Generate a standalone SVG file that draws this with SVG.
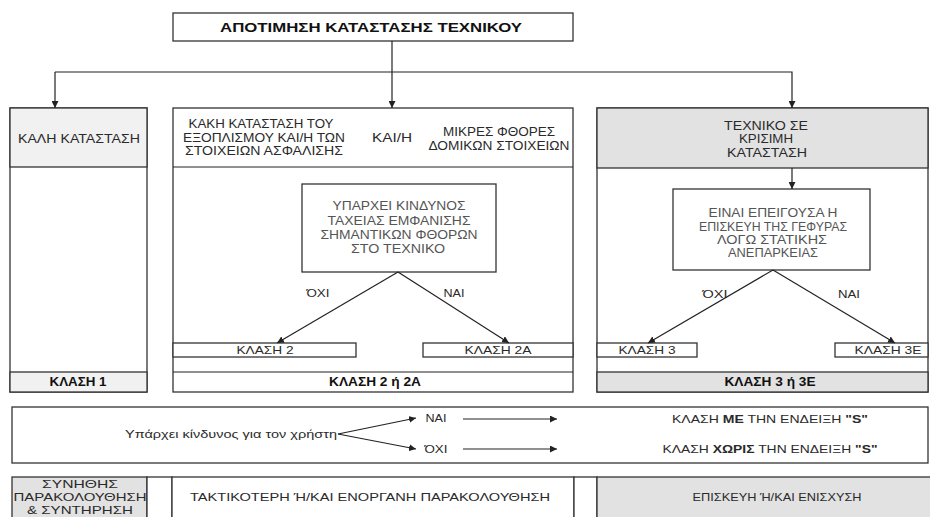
<svg xmlns="http://www.w3.org/2000/svg" width="930" height="517" viewBox="0 0 930 517">
<style>
.bx{fill:#fff;stroke:#333;stroke-width:1.3}
.gy{fill:#e2e2e2;stroke:#333;stroke-width:1.3}
.lg{fill:#f1f1f1;stroke:#333;stroke-width:1.3}
.ln{fill:none;stroke:#222;stroke-width:1.2}
text{font-family:"Liberation Sans",Arial,sans-serif;font-size:12px;fill:#2a2a2a;text-anchor:middle;dominant-baseline:central}
.b{font-weight:bold;fill:#111}
.i{fill:#555}
.s{font-size:11px}
</style>
<defs>
<marker id="ah" viewBox="0 0 10 10" refX="10" refY="5" markerWidth="7" markerHeight="7" markerUnits="userSpaceOnUse" orient="auto"><path d="M0,0L10,5L0,10z" fill="#222"/></marker>
</defs>
<rect width="930" height="517" fill="#fff"/>

<g id="title"><rect class="bx" x="173" y="13" width="400" height="28"/><text class="b" x="371" y="28" font-size="13" textLength="302" lengthAdjust="spacingAndGlyphs">ΑΠΟΤΙΜΗΣΗ ΚΑΤΑΣΤΑΣΗΣ ΤΕΧΝΙΚΟΥ</text></g>

<g id="col1">
<rect class="bx" x="10" y="108" width="137" height="284"/>
<rect class="lg" x="10" y="108" width="137" height="59"/>
<rect class="lg" x="10" y="372" width="137" height="20"/>
<text x="79" y="139" textLength="122" lengthAdjust="spacingAndGlyphs">ΚΑΛΗ ΚΑΤΑΣΤΑΣΗ</text>
<text class="b" x="78" y="382" textLength="57" lengthAdjust="spacingAndGlyphs">ΚΛΑΣΗ 1</text>
</g>

<g id="col2">
<rect class="bx" x="173" y="108" width="400" height="284"/>
<line class="ln" x1="173" y1="167" x2="573" y2="167"/>
<line class="ln" x1="173" y1="372" x2="573" y2="372"/>
<text x="261" y="124" textLength="145" lengthAdjust="spacingAndGlyphs">ΚΑΚΗ ΚΑΤΑΣΤΑΣΗ ΤΟΥ</text>
<text x="264" y="138" textLength="162" lengthAdjust="spacingAndGlyphs">ΕΞΟΠΛΙΣΜΟΥ ΚΑΙ/Η ΤΩΝ</text>
<text x="264" y="151" textLength="158" lengthAdjust="spacingAndGlyphs">ΣΤΟΙΧΕΙΩΝ ΑΣΦΑΛΙΣΗΣ</text>
<text x="392" y="138" textLength="40" lengthAdjust="spacingAndGlyphs">ΚΑΙ/Η</text>
<text x="499" y="132" textLength="112" lengthAdjust="spacingAndGlyphs">ΜΙΚΡΕΣ ΦΘΟΡΕΣ</text>
<text x="499" y="146" textLength="141" lengthAdjust="spacingAndGlyphs">ΔΟΜΙΚΩΝ ΣΤΟΙΧΕΙΩΝ</text>
<text class="b" x="375" y="382" textLength="92" lengthAdjust="spacingAndGlyphs">ΚΛΑΣΗ 2 ή 2Α</text>
</g>
<g id="q2"><rect class="bx" x="302" y="184" width="194" height="88"/>
<text class="i" x="399" y="206" textLength="133" lengthAdjust="spacingAndGlyphs">ΥΠΑΡΧΕΙ ΚΙΝΔΥΝΟΣ</text>
<text class="i" x="399" y="221" textLength="143" lengthAdjust="spacingAndGlyphs">ΤΑΧΕΙΑΣ ΕΜΦΑΝΙΣΗΣ</text>
<text class="i" x="399" y="235" textLength="157" lengthAdjust="spacingAndGlyphs">ΣΗΜΑΝΤΙΚΩΝ ΦΘΟΡΩΝ</text>
<text class="i" x="398" y="249" textLength="94" lengthAdjust="spacingAndGlyphs">ΣΤΟ ΤΕΧΝΙΚΟ</text></g>
<g id="k2"><rect class="bx" x="173" y="343" width="183" height="14"/><text x="265" y="350" class="s" textLength="57" lengthAdjust="spacingAndGlyphs">ΚΛΑΣΗ 2</text></g>
<g id="k2a"><rect class="bx" x="423" y="343" width="150" height="14"/><text x="498" y="350" class="s" textLength="67" lengthAdjust="spacingAndGlyphs">ΚΛΑΣΗ 2Α</text></g>

<g id="col3">
<rect class="bx" x="597" y="108" width="331" height="284"/>
<rect class="gy" x="597" y="108" width="331" height="60"/>
<rect class="gy" x="597" y="372" width="331" height="20"/>
<text x="766" y="126" textLength="84" lengthAdjust="spacingAndGlyphs">ΤΕΧΝΙΚΟ ΣΕ</text>
<text x="766" y="139" textLength="54" lengthAdjust="spacingAndGlyphs">ΚΡΙΣΙΜΗ</text>
<text x="767" y="153" textLength="80" lengthAdjust="spacingAndGlyphs">ΚΑΤΑΣΤΑΣΗ</text>
<text class="b" x="770" y="382" textLength="91" lengthAdjust="spacingAndGlyphs">ΚΛΑΣΗ 3 ή 3Ε</text>
</g>
<g id="q3"><rect class="bx" x="673" y="189" width="197" height="81"/>
<text class="i" x="773" y="213" textLength="129" lengthAdjust="spacingAndGlyphs">ΕΙΝΑΙ ΕΠΕΙΓΟΥΣΑ Η</text>
<text class="i" x="773" y="227" textLength="148" lengthAdjust="spacingAndGlyphs">ΕΠΙΣΚΕΥΗ ΤΗΣ ΓΕΦΥΡΑΣ</text>
<text class="i" x="772" y="240" textLength="110" lengthAdjust="spacingAndGlyphs">ΛΟΓΩ  ΣΤΑΤΙΚΗΣ</text>
<text class="i" x="773" y="253" textLength="90" lengthAdjust="spacingAndGlyphs">ΑΝΕΠΑΡΚΕΙΑΣ</text></g>
<g id="k3"><rect class="bx" x="597" y="343" width="100" height="14"/><text x="647" y="350" class="s" textLength="57" lengthAdjust="spacingAndGlyphs">ΚΛΑΣΗ 3</text></g>
<g id="k3e"><rect class="bx" x="835" y="343" width="93" height="14"/><text x="888" y="350" class="s" textLength="67" lengthAdjust="spacingAndGlyphs">ΚΛΑΣΗ 3Ε</text></g>

<g id="user">
<rect class="bx" x="12" y="407" width="916" height="56"/>
<text class="s" x="231" y="434" textLength="212" lengthAdjust="spacingAndGlyphs">Υπάρχει κίνδυνος για τον χρήστη</text>
<text class="s" x="436" y="418" textLength="21" lengthAdjust="spacingAndGlyphs">ΝΑΙ</text>
<text class="s" x="436" y="449" textLength="23" lengthAdjust="spacingAndGlyphs">ΌΧΙ</text>
<text class="s" x="770" y="419" textLength="196" lengthAdjust="spacingAndGlyphs">ΚΛΑΣΗ <tspan font-weight="bold">ΜΕ</tspan> ΤΗΝ ΕΝΔΕΙΞΗ <tspan font-weight="bold">"S"</tspan></text>
<text class="s" x="770" y="449" textLength="215" lengthAdjust="spacingAndGlyphs">ΚΛΑΣΗ <tspan font-weight="bold">ΧΩΡΙΣ</tspan> ΤΗΝ ΕΝΔΕΙΞΗ <tspan font-weight="bold">"S"</tspan></text>
</g>

<g id="actions">
<rect class="gy" x="12" y="477" width="135" height="50"/>
<rect class="bx" x="147" y="477" width="25" height="50"/>
<rect class="bx" x="172" y="477" width="402" height="50"/>
<rect class="bx" x="574" y="477" width="23" height="50"/>
<rect class="gy" x="597" y="477" width="340" height="50"/>
<text class="s" x="80" y="484" textLength="76" lengthAdjust="spacingAndGlyphs">ΣΥΝΗΘΗΣ</text>
<text class="s" x="80" y="497" textLength="133" lengthAdjust="spacingAndGlyphs">ΠΑΡΑΚΟΛΟΥΘΗΣΗ</text>
<text class="s" x="80" y="510" textLength="106" lengthAdjust="spacingAndGlyphs">&amp; ΣΥΝΤΗΡΗΣΗ</text>
<text class="s" x="370" y="497" textLength="360" lengthAdjust="spacingAndGlyphs">ΤΑΚΤΙΚΟΤΕΡΗ Ή/ΚΑΙ ΕΝΟΡΓΑΝΗ ΠΑΡΑΚΟΛΟΥΘΗΣΗ</text>
<text class="s" x="777" y="497" textLength="169" lengthAdjust="spacingAndGlyphs">ΕΠΙΣΚΕΥΗ Ή/ΚΑΙ ΕΝΙΣΧΥΣΗ</text>
</g>

<g id="connectors">
<line class="ln" x1="392" y1="41" x2="392" y2="108" marker-end="url(#ah)"/>
<polyline class="ln" points="55,72 792,72 792,108" marker-end="url(#ah)"/>
<line class="ln" x1="55" y1="72" x2="55" y2="108" marker-end="url(#ah)"/>
<line class="ln" x1="792" y1="168" x2="792" y2="189" marker-end="url(#ah)"/>
<line class="ln" x1="398" y1="272" x2="277" y2="343" marker-end="url(#ah)"/>
<line class="ln" x1="398" y1="272" x2="509" y2="343" marker-end="url(#ah)"/>
<line class="ln" x1="773" y1="270" x2="648" y2="343" marker-end="url(#ah)"/>
<line class="ln" x1="773" y1="270" x2="895" y2="343" marker-end="url(#ah)"/>
<line class="ln" x1="338" y1="434" x2="416" y2="418" marker-end="url(#ah)"/>
<line class="ln" x1="338" y1="434" x2="416" y2="449" marker-end="url(#ah)"/>
<line class="ln" x1="463" y1="419" x2="557" y2="419" marker-end="url(#ah)"/>
<line class="ln" x1="463" y1="449" x2="557" y2="449" marker-end="url(#ah)"/>
<text x="318" y="293" class="s" textLength="23" lengthAdjust="spacingAndGlyphs">ΌΧΙ</text>
<text x="454" y="293" class="s" textLength="21" lengthAdjust="spacingAndGlyphs">ΝΑΙ</text>
<text x="715" y="294" class="s" textLength="25" lengthAdjust="spacingAndGlyphs">ΌΧΙ</text>
<text x="849" y="294" class="s" textLength="22" lengthAdjust="spacingAndGlyphs">ΝΑΙ</text>
</g>
</svg>
